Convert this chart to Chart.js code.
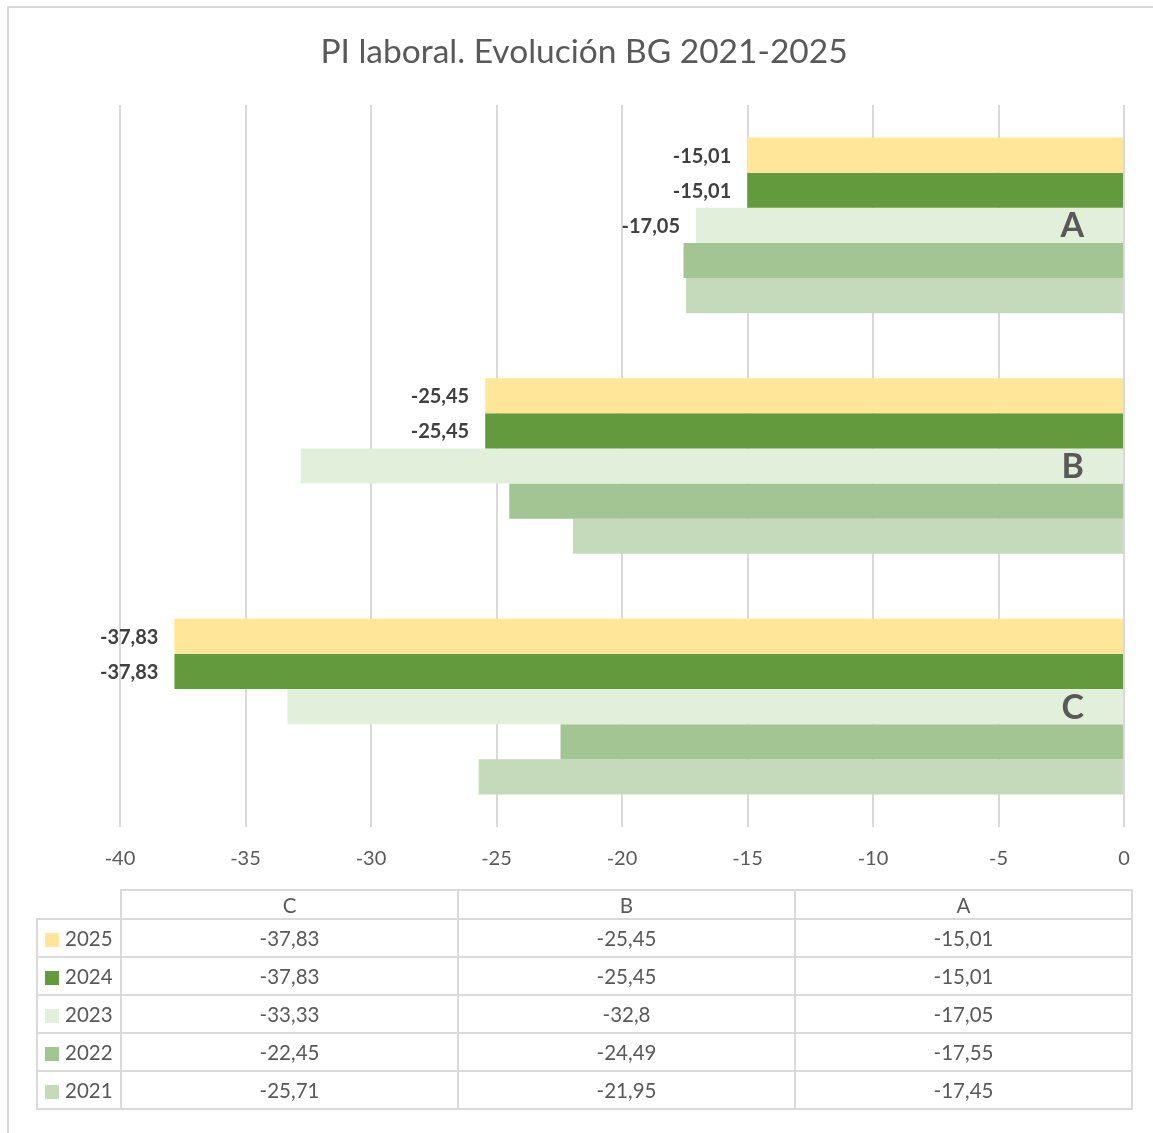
<!DOCTYPE html>
<html>
<head>
<meta charset="utf-8">
<title>PI laboral</title>
<script src="https://cdn.jsdelivr.net/npm/chart.js@4/dist/chart.umd.min.js"></script>
<style>
  html, body { margin: 0; padding: 0; background: #fff; }
  #wrap { position: relative; width: 1153px; height: 1133px; overflow: hidden; font-family: Lato, "Open Sans", sans-serif; color: #595959; }
  #frame { position: absolute; left: 7px; top: 6px; width: 1300px; height: 1300px; border-left: 2px solid #D9D9D9; border-top: 2px solid #D9D9D9; }
  #chart { position: absolute; left: 0; top: 0; }
  #chartTitle { position: absolute; left: 0; width: 1168px; top: 30px; text-align: center; font-size: 33.5px; line-height: 40px; color: #595959; }
  #dataTable { position: absolute; left: 36px; top: 889px; border-collapse: collapse; table-layout: fixed; font-size: 20.5px; color: #595959; }
  #dataTable td { border: 2px solid #DADADA; text-align: center; padding: 0; height: 36px; }
  #dataTable tr.head td { height: 27px; }
  #dataTable td.corner { border-top: none; border-left: none; }
  #dataTable td.series { text-align: left; padding-left: 7px; white-space: nowrap; }
  .swatch { display: inline-block; width: 14px; height: 14px; margin-right: 6px; vertical-align: -1px; }
</style>
</head>
<body>
<div id="wrap">
  <div id="frame"></div>
  <canvas id="chart" width="1153" height="1133"></canvas>
  <div id="chartTitle">PI laboral. Evolución BG 2021-2025</div>
  <table id="dataTable"></table>
</div>
<script>
// data
const categories = ["C", "B", "A"]
const seriesNames = ["2025", "2024", "2023", "2022", "2021"]
const values2025 = [-37.83, -25.45, -15.01]
const values2024 = [-37.83, -25.45, -15.01]
const values2023 = [-33.33, -32.8, -17.05]
const values2022 = [-22.45, -24.49, -17.55]
const values2021 = [-25.71, -21.95, -17.45]
const seriesValues = [values2025, values2024, values2023, values2022, values2021]
const seriesColors = ["#FFE699", "#639A3D", "#E2EFDA", "#A3C593", "#C5D9BB"]
const xMin = -40
const xMax = 0
const xStep = 5
// which bars carry a value label
const labelledBars = {
  "2025": ["C", "B", "A"],
  "2024": ["C", "B", "A"],
  "2023": ["A"],
}

function formatValue(v) {
  return String(v).replace(".", ",")
}

const barLabels = {
  id: "barLabels",
  afterDatasetsDraw(chart) {
    const { ctx, chartArea } = chart
    ctx.save()
    ctx.textAlign = "right"
    ctx.textBaseline = "middle"
    ctx.font = "bold 20px Lato"
    ctx.fillStyle = "#404040"
    chart.data.datasets.forEach((ds, i) => {
      const shown = labelledBars[ds.label] || []
      chart.getDatasetMeta(i).data.forEach((bar, j) => {
        if (!shown.includes(categories[j])) return
        ctx.fillText(formatValue(ds.data[j]), bar.x - 16, bar.y + 1)
      })
    })
    // category names sit inside the plot, next to the zero line
    ctx.font = "bold 34px Lato"
    ctx.fillStyle = "#595959"
    const yScale = chart.scales.y
    categories.forEach((c, j) => {
      ctx.fillText(c, chartArea.right - 40, yScale.getPixelForValue(j) + 1)
    })
    ctx.restore()
  },
}

function buildTable() {
  const table = document.getElementById("dataTable")
  const widths = [84, 337, 337, 337]
  const colgroup = document.createElement("colgroup")
  widths.forEach((w) => {
    const col = document.createElement("col")
    col.style.width = w + "px"
    colgroup.appendChild(col)
  })
  table.appendChild(colgroup)

  const head = document.createElement("tr")
  head.className = "head"
  const corner = document.createElement("td")
  corner.className = "corner"
  head.appendChild(corner)
  categories.forEach((c) => {
    const td = document.createElement("td")
    td.textContent = c
    head.appendChild(td)
  })
  table.appendChild(head)

  seriesNames.forEach((name, i) => {
    const tr = document.createElement("tr")
    const first = document.createElement("td")
    first.className = "series"
    const sw = document.createElement("span")
    sw.className = "swatch"
    sw.style.background = seriesColors[i]
    first.appendChild(sw)
    first.appendChild(document.createTextNode(name))
    tr.appendChild(first)
    seriesValues[i].forEach((v) => {
      const td = document.createElement("td")
      td.textContent = formatValue(v)
      tr.appendChild(td)
    })
    table.appendChild(tr)
  })
}

document.addEventListener("DOMContentLoaded", () => {
  buildTable()

  const ctx = document.getElementById("chart")
  new Chart(ctx, {
    type: "bar",
    data: {
      labels: categories,
      datasets: seriesNames.map((name, i) => ({
        label: name,
        data: seriesValues[i],
        backgroundColor: seriesColors[i],
        borderWidth: 0,
        categoryPercentage: 0.73,
        barPercentage: 1,
      })),
    },
    options: {
      indexAxis: "y",
      responsive: false,
      animation: false,
      layout: {
        padding: { left: 120, right: 29, top: 105, bottom: 242 },
      },
      plugins: {
        legend: { display: false },
        tooltip: { enabled: false },
        title: { display: false },
      },
      scales: {
        x: {
          min: xMin,
          max: xMax,
          ticks: {
            stepSize: xStep,
            color: "#595959",
            padding: 20,
            font: { family: "Lato", size: 20 },
          },
          grid: {
            color: "#D9D9D9",
            lineWidth: 2,
            drawTicks: false,
          },
          border: { display: false },
        },
        y: {
          reverse: true,
          display: false,
        },
      },
    },
    plugins: [barLabels],
  })
})
</script>
</body>
</html>
